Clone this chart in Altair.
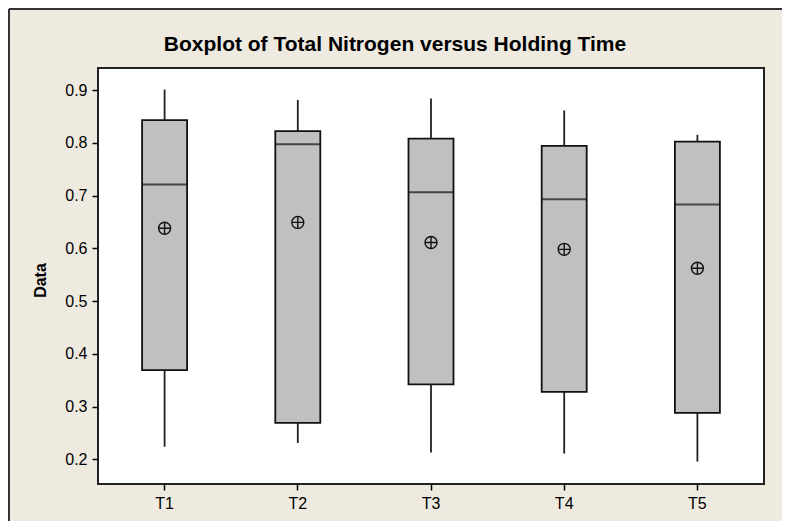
import altair as alt
import pandas as pd

groups = ["T1", "T2", "T3", "T4", "T5"]
whisker_low = [0.224, 0.231, 0.213, 0.211, 0.196]
q1 = [0.369, 0.269, 0.342, 0.328, 0.288]
median = [0.721, 0.797, 0.706, 0.693, 0.683]
q3 = [0.843, 0.822, 0.808, 0.794, 0.802]
whisker_high = [0.901, 0.881, 0.884, 0.861, 0.815]
mean = [0.638, 0.649, 0.611, 0.598, 0.562]
y_ticks = [0.2, 0.3, 0.4, 0.5, 0.6, 0.7, 0.8, 0.9]
title_text = "Boxplot of Total Nitrogen versus Holding Time"

df = pd.DataFrame({
    "Group": groups,
    "low": whisker_low,
    "q1": q1,
    "median": median,
    "q3": q3,
    "high": whisker_high,
    "mean": mean,
})

W, H = 666, 416
FONT = "Liberation Sans"

x_enc = alt.X("Group:N", sort=groups,
              scale=alt.Scale(paddingInner=0, paddingOuter=0),
              axis=alt.Axis(title=None, labelAngle=0))
y_scale = alt.Scale(domain=[0.1532, 0.9417], nice=False, zero=False)
y_axis = alt.Axis(title="Data", values=y_ticks, format=".1f",
                  titleAngle=-90, titleX=-58, titleY=212,
                  titleAlign="center", titleBaseline="middle")

base = alt.Chart(df)

whisk = base.mark_rule(color="#222222", strokeWidth=1.8).encode(
    x=x_enc,
    y=alt.Y("low:Q", scale=y_scale, axis=y_axis),
    y2="high:Q",
)

box = base.mark_bar(size=45, fill="#C0C0C0", stroke="#111111", strokeWidth=1.8).encode(
    x=x_enc,
    y=alt.Y("q1:Q", scale=y_scale),
    y2="q3:Q",
)

med = base.mark_tick(size=45, thickness=2, color="#111111").encode(
    x=x_enc,
    y=alt.Y("median:Q", scale=y_scale),
)

mean_shape = "M -1 0 A 1 1 0 1 0 1 0 A 1 1 0 1 0 -1 0 Z M -1 0 L 1 0 M 0 -1 L 0 1"
mn = base.mark_point(shape=mean_shape, size=144, filled=False,
                     stroke="#111111", strokeWidth=1.4, opacity=1).encode(
    x=x_enc,
    y=alt.Y("mean:Q", scale=y_scale),
)

one = pd.DataFrame({"t": [title_text]})

frame_top = alt.Chart(one).mark_rule(color="#333333", strokeWidth=2, clip=False).encode(
    x=alt.value(-89), x2=alt.value(W + 18), y=alt.value(-59),
)
frame_left = alt.Chart(one).mark_rule(color="#333333", strokeWidth=2, clip=False).encode(
    x=alt.value(-89), y=alt.value(-59), y2=alt.value(H + 37),
)

title = alt.Chart(one).mark_text(
    font=FONT, fontSize=21, fontWeight="bold", color="black",
    align="center", baseline="alphabetic",
).encode(
    x=alt.value(W / 2 - 36), y=alt.value(-17), text="t:N",
)

chart = alt.layer(whisk, box, med, mn, frame_top, frame_left, title).properties(
    width=W,
    height=H,
    autosize=alt.AutoSizeParams(type="none"),
    padding={"left": 90, "top": 60, "right": 18, "bottom": 37},
    background="#EEEAE0",
).configure_view(
    fill="white", stroke="#222222", strokeWidth=2
).configure_axis(
    labelFont=FONT, labelFontSize=16, labelColor="black",
    titleFont=FONT, titleFontSize=16, titleFontWeight="bold", titleColor="black",
    tickColor="black", tickSize=6, tickWidth=1.5,
    domain=False, grid=False, labelPadding=5,
)

chart.save("out.html", embed_options={"renderer": "svg", "actions": False})
